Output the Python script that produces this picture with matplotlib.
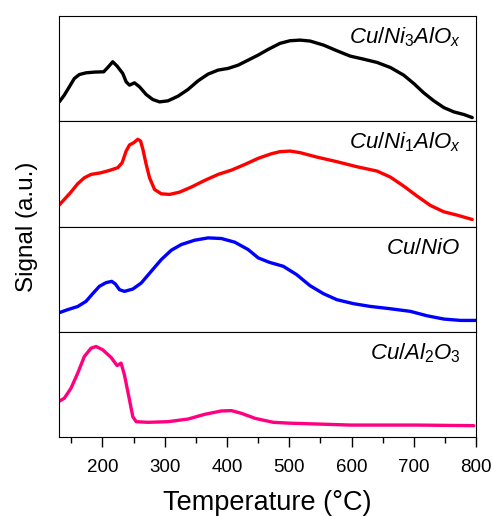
import matplotlib
matplotlib.use("Agg")
import matplotlib.pyplot as plt
from matplotlib.ticker import MultipleLocator

plt.rcParams["font.family"] = ["Liberation Sans", "DejaVu Sans"]
plt.rcParams["mathtext.fontset"] = "custom"
plt.rcParams["mathtext.rm"] = "Liberation Sans"
plt.rcParams["mathtext.it"] = "Liberation Sans:italic"

t_ni3 = [130.8, 138.8, 146.9, 154.9, 163, 173.7, 187.1, 202.1, 208.6, 216.6, 223.6, 232.7,
         238.1, 243.5, 251.5, 259.6, 270.3, 281, 291.8, 305.2, 321.3, 337.4, 353.5, 369.6,
         385.7, 401.8, 417.9, 434, 450.1, 466.2, 485, 501.1, 517.2, 533.3, 554.8, 576.3,
         597.7, 619.2, 640.7, 662.1, 683.6, 699.7, 715.8, 731.9, 748, 764.1, 780.2, 793.6]
s_ni3 = [0.184, 0.248, 0.327, 0.406, 0.444, 0.46, 0.467, 0.47, 0.511, 0.565, 0.524, 0.454,
         0.375, 0.343, 0.365, 0.327, 0.254, 0.206, 0.184, 0.194, 0.238, 0.302, 0.384, 0.448,
         0.486, 0.502, 0.533, 0.581, 0.629, 0.683, 0.74, 0.765, 0.771, 0.762, 0.724, 0.67,
         0.619, 0.59, 0.559, 0.511, 0.438, 0.359, 0.27, 0.194, 0.13, 0.089, 0.064, 0.035]

t_ni1 = [129.1, 138.8, 149.5, 160.3, 171, 181.7, 197.9, 211.3, 224.7, 231.7, 238.1, 243.5,
         250.5, 256.9, 261.2, 265, 270.3, 275.7, 283.7, 294.5, 307.9, 324, 342.8, 364.2,
         385.7, 407.2, 428.7, 450.1, 471.6, 485, 501.1, 517.2, 544, 576.3, 608.5, 640.7,
         662.1, 683.6, 705.1, 726.5, 748, 769.5, 793.6]
s_ni1 = [0.194, 0.257, 0.327, 0.406, 0.463, 0.495, 0.511, 0.533, 0.559, 0.606, 0.717, 0.775,
         0.797, 0.829, 0.813, 0.733, 0.59, 0.463, 0.352, 0.311, 0.305, 0.327, 0.375, 0.438,
         0.495, 0.536, 0.59, 0.648, 0.692, 0.711, 0.717, 0.702, 0.66, 0.616, 0.568, 0.527,
         0.47, 0.384, 0.289, 0.2, 0.14, 0.108, 0.067]

t_nio = [129.1, 144.2, 160.3, 173.7, 184.4, 195.2, 205.9, 215, 220.9, 227.4, 235.4, 248.8,
         262.3, 278.4, 294.5, 310.6, 326.7, 348.1, 369.6, 391.1, 412.6, 434, 450.1, 468,
         490.4, 511.8, 533.3, 554.8, 576.3, 603.1, 629.9, 662.1, 694.3, 721.2, 748, 774.9,
         799]
s_nio = [0.178, 0.21, 0.24, 0.289, 0.362, 0.432, 0.467, 0.479, 0.454, 0.4, 0.384, 0.406,
         0.463, 0.575, 0.686, 0.775, 0.829, 0.87, 0.892, 0.886, 0.851, 0.781, 0.702, 0.66,
         0.622, 0.543, 0.438, 0.362, 0.305, 0.267, 0.241, 0.219, 0.194, 0.152, 0.121, 0.108,
         0.108]

t_al = [129.1, 138.8, 149.5, 160.3, 171, 181.7, 189.8, 200.5, 214, 223.6, 230, 235.4, 241.9,
        248.8, 254.2, 273, 305.2, 337.4, 364.2, 391.1, 407.2, 423.3, 444.8, 474.3, 500,
        544, 597.7, 705, 796]
s_al = [0.336, 0.368, 0.463, 0.606, 0.765, 0.844, 0.86, 0.829, 0.756, 0.679, 0.702, 0.59,
        0.4, 0.194, 0.146, 0.14, 0.146, 0.171, 0.216, 0.248, 0.251, 0.225, 0.178, 0.14,
        0.132, 0.124, 0.114, 0.114, 0.108]

series = [
    (t_ni3, s_ni3, "black", r"$\it{Cu/Ni_3AlO_x}$"),
    (t_ni1, s_ni1, "#ff0000", r"$\it{Cu/Ni_1AlO_x}$"),
    (t_nio, s_nio, "#0000ff", r"$\it{Cu/NiO}$"),
    (t_al, s_al, "#ff0080", r"$\it{Cu/Al_2O_3}$"),
]

fig, axes = plt.subplots(4, 1, figsize=(4.94, 5.16), dpi=100, sharex=True)
fig.subplots_adjust(left=0.119, right=0.964, top=0.969, bottom=0.153, hspace=0)

for ax, (t, s, c, lab) in zip(axes, series):
    ax.plot(t, s, color=c, lw=2.4, solid_capstyle="round", solid_joinstyle="round")
    ax.set_ylim(0, 1)
    ax.set_yticks([])
    ax.text(0.963, 0.74, lab, transform=ax.transAxes, ha="right", va="baseline",
            fontsize=16)
    ax.tick_params(axis="x", which="both", bottom=False, labelbottom=False)

ax = axes[-1]
ax.set_xlim(130, 800)
ax.xaxis.set_major_locator(MultipleLocator(100))
ax.xaxis.set_minor_locator(MultipleLocator(50))
ax.tick_params(axis="x", which="major", bottom=True, labelbottom=True, direction="out",
               length=7, width=1, labelsize=13.5, pad=9)
ax.tick_params(axis="x", which="minor", bottom=True, direction="out", length=4, width=1)
ax.set_xlabel("Temperature (°C)", fontsize=19.5, labelpad=10)
fig.text(0.055, 0.561, "Signal (a.u.)", rotation=90, ha="center", va="center", fontsize=17.5)

fig.savefig("out.png", dpi=100)
